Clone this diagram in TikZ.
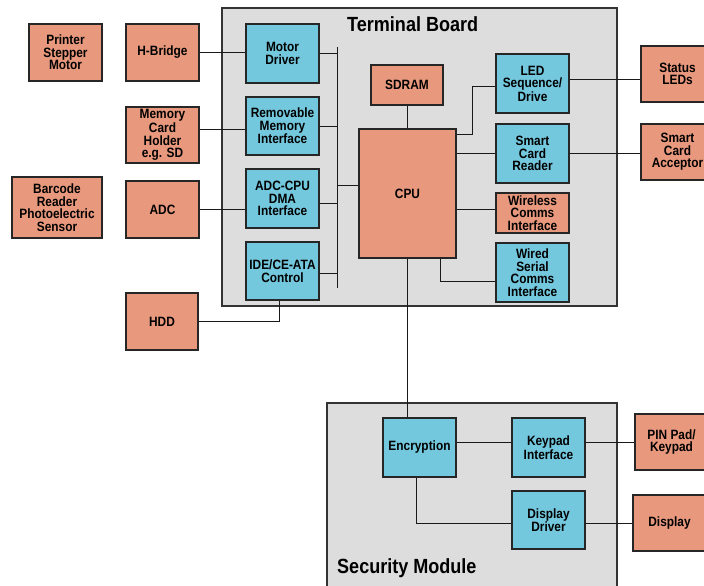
\documentclass[tikz,border=0pt]{standalone}
\usepackage{fontspec}
\setmainfont{Liberation Sans}[FakeStretch=0.88]

\definecolor{partorange}{HTML}{E8997D}
\definecolor{partblue}{HTML}{74C8DE}
\definecolor{boardgray}{HTML}{DDDDDD}

\tikzset{
  part/.style={draw=black!85, line width=1.3pt, minimum width=73pt, minimum height=58pt,
    inner sep=0pt, align=center, font=\bfseries\fontsize{13.5}{12.5}\selectfont},
  ext/.style={part, fill=partorange},
  ctl/.style={part, fill=partblue},
  board/.style={draw=black!80, line width=1.3pt, fill=boardgray},
  title/.style={inner sep=0pt, anchor=base west, font=\bfseries\fontsize{20.5}{24}\selectfont},
  wire/.style={line width=1pt, black!90},
}

\begin{document}
\begin{tikzpicture}[x=1pt, y=-1pt]
    \useasboundingbox (0,0) rectangle (704,586);

    % the two boards
    \draw[board] (222,8) rectangle (617,306);
    \draw[board] (327,403) rectangle (617,600);
    \node[title] (tbtitle) at (347,32) {Terminal Board};
    \node[title] (smtitle) at (337,573) {Security Module};

    % outside parts, left column
    \node[ext, minimum height=57pt] (printer) at (65.5,52.5) {Printer\\Stepper\\Motor};
    \node[ext, minimum width=90pt, minimum height=61pt] (barcode) at (57,207.5) {Barcode\\Reader\\Photoelectric\\Sensor};
    \node[ext, minimum height=57pt] (hbridge) at (162.5,52.5) {H-Bridge};
    \node[ext, minimum height=56pt] (memcard) at (162.5,135) {Memory\\Card\\Holder\\e.g. SD};
    \node[ext, minimum height=57pt] (adc) at (162.5,209.5) {ADC};
    \node[ext, minimum width=72pt, minimum height=57pt] (hdd) at (162,321.5) {HDD};

    % terminal board, bus side
    \node[ctl, minimum height=59pt] (motor) at (282.5,53.5) {Motor\\Driver};
    \node[ctl] (remmem) at (282.5,126) {Removable\\Memory\\Interface};
    \node[ctl, minimum height=59pt] (adccpu) at (282.5,198.5) {ADC-CPU\\DMA\\Interface};
    \node[ctl] (ide) at (282.5,271) {IDE/CE-ATA\\Control};
    \coordinate (bustop) at (337,47);
    \coordinate (busbot) at (337,288);

    % terminal board, cpu and its peripherals
    \node[ext, minimum width=72pt, minimum height=40pt] (sdram) at (407,85) {SDRAM};
    \node[ext, minimum width=97pt, minimum height=129pt] (cpu) at (407.5,193.5) {CPU};
    \node[ctl, minimum height=59pt] (led) at (532.5,83.5) {LED\\Sequence/\\Drive};
    \node[ctl, minimum height=59pt] (scr) at (532.5,153.5) {Smart\\Card\\Reader};
    \node[ext, minimum height=40pt] (wireless) at (532.5,213) {Wireless\\Comms\\Interface};
    \node[ctl, minimum height=59pt] (wired) at (532.5,272.5) {Wired\\Serial\\Comms\\Interface};

    % outside parts, right column
    \node[ext, minimum height=56pt] (status) at (677.5,74) {Status\\LEDs};
    \node[ext, minimum height=56pt] (acceptor) at (677.5,152) {Smart\\Card\\Acceptor};
    \node[ext, minimum height=56pt] (pinpad) at (671.5,442) {PIN Pad/\\Keypad};
    \node[ext, minimum height=56pt] (display) at (669.5,523) {Display};

    % security module
    \node[ctl, minimum height=59pt] (encrypt) at (419.5,447.5) {Encryption};
    \node[ctl, minimum height=59pt] (keypad) at (548.5,447.5) {Keypad\\Interface};
    \node[ctl] (dispdrv) at (548.5,520) {Display\\Driver};

    % connections on the left
    \draw[wire] (hbridge.east) -- (hbridge.east -| motor.west);
    \draw[wire] ([yshift=5.5pt]memcard.east) -- ([yshift=5.5pt]memcard.east -| remmem.west);
    \draw[wire] (adc.east) -- (adc.east -| adccpu.west);
    \draw[wire] (hdd.east) -| ([xshift=-3.5pt]ide.south);

    % the bus
    \draw[wire] (bustop) -- (busbot);
    \foreach \n/\s in {motor/0,remmem/-0.5,adccpu/-5,ide/-2.5}{
      \draw[wire] ([yshift=\s pt]\n.east) -- ([yshift=\s pt]\n.east -| bustop);
    }
    \draw[wire] ([yshift=8pt]cpu.west -| bustop) -- ([yshift=8pt]cpu.west);

    % cpu links
    \draw[wire] (sdram.south) -- (sdram.south |- cpu.north);
    \draw[wire] ([yshift=-6.5pt]cpu.north east) -- ++(16,0) |- ([yshift=-3pt]led.west);
    \draw[wire] (scr.west -| cpu.east) -- (scr.west);
    \draw[wire] ([yshift=3.5pt]wireless.west -| cpu.east) -- ([yshift=3.5pt]wireless.west);
    \draw[wire] ([xshift=32.5pt]cpu.south) |- ([yshift=-9pt]wired.west);
    \draw[wire] (cpu.south) -- (cpu.south |- encrypt.north);

    % connections on the right
    \draw[wire] ([yshift=4pt]led.east) -- ([yshift=4pt]led.east -| status.west);
    \draw[wire] (scr.east) -- (scr.east -| acceptor.west);
    \draw[wire] ([yshift=5pt]encrypt.east) -- ([yshift=5pt]encrypt.east -| keypad.west);
    \draw[wire] ([yshift=5pt]keypad.east) -- ([yshift=5pt]keypad.east -| pinpad.west);
    \draw[wire] ([xshift=-3.5pt]encrypt.south) |- ([yshift=-3.5pt]dispdrv.west);
    \draw[wire] ([yshift=-3.5pt]dispdrv.east) -- ([yshift=-3.5pt]dispdrv.east -| display.west);
\end{tikzpicture}
\end{document}
